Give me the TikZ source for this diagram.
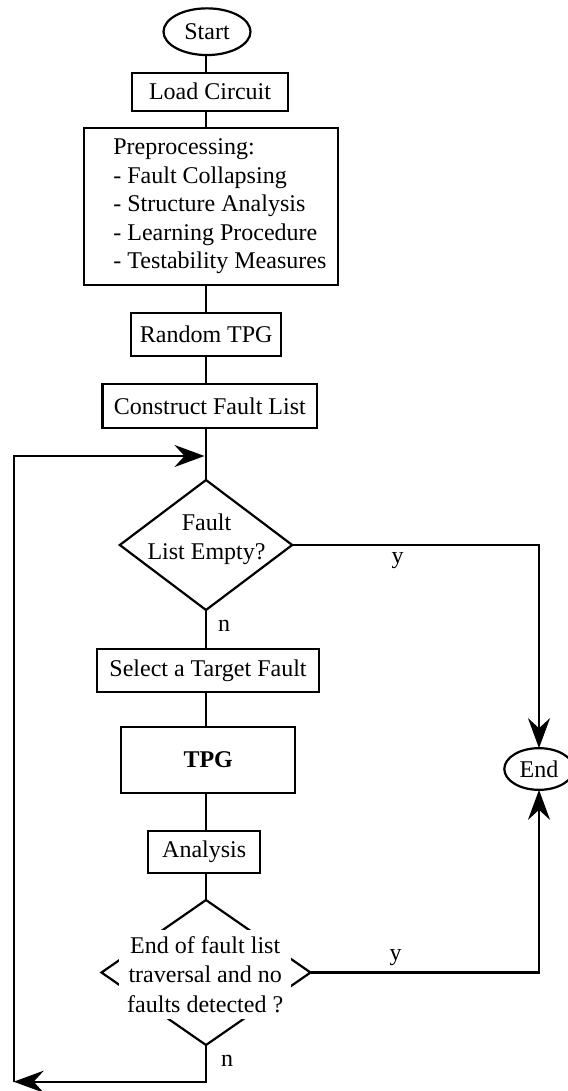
\documentclass[tikz,border=0pt]{standalone}
\usepackage{fontspec}
\setmainfont{Liberation Serif}
\usepackage{tikz}
\usetikzlibrary{shapes.geometric}
\usetikzlibrary{arrows.meta}
\tikzset{procbox/.style = {draw, rectangle, inner sep = 0pt, outer sep = 0pt}}
\tikzset{termin/.style = {draw, ellipse, inner sep = 0pt, outer sep = 0pt}}
\tikzset{decis/.style = {draw, diamond, inner sep = 0pt, outer sep = 0pt}}
\tikzset{arr/.style = {-{Stealth[length = 30pt, width = 22pt, inset = 10pt]}}}

\begin{document}
\begin{tikzpicture}[x = 1pt, y = -1pt, line width = 2.2pt, font = \fontsize{24}{29}\selectfont]
    \useasboundingbox (0, 0) rectangle (567, 1091);
    \node [termin, minimum width = 87pt, minimum height = 46.7pt] (start) at (207, 31.7) {Start};
    \foreach \x\y\w\h\n\t in {210/91.7/156.6/38/load/Load Circuit, 206.2/334.2/150/43/rand/Random TPG, 209.8/406.3/214.5/44/cfl/Construct Fault List, 208/670.5/222.2/42.3/sel/Select a Target Fault, 208.2/760/174.2/66.7/tpg/\textbf{TPG}, 204.2/852/112/42.7/ana/Analysis} {
        \node [procbox, minimum width = \w pt, minimum height = \h pt] (\n) at (\x, \y) {\t};
    }
    \node [procbox, minimum width = 253.7pt, minimum height = 156.7pt] (prep) at (210.8, 206.7) {};
    \node [anchor = west, align = left, inner sep = 0pt, font = \fontsize{24}{28.5}\selectfont] (preptext) at (112.3, 206.5) {Preprocessing:\\- Fault Collapsing\\- Structure Analysis\\- Learning Procedure\\- Testability Measures};
    % decisions
    \node [decis, minimum width = 172.4pt, minimum height = 130pt] (dec1) at (206, 545) {};
    \node [align = center, inner sep = 0pt, font = \fontsize{24}{28.6}\selectfont] (dec1text) at (206.5, 539.4) {Fault\\List Empty?};
    \node [decis, minimum width = 209pt, minimum height = 145pt] (dec2) at (206, 972.5) {};
    \node [fill = white, align = center, inner sep = 0pt, minimum width = 171.7pt, minimum height = 89.3pt, font = \fontsize{24}{29.5}\selectfont] (dec2text) at (205.2, 974.7) {End of fault list\\traversal and no\\faults detected ?};
    \node [termin, minimum width = 69.4pt, minimum height = 41.7pt] (end) at (539, 769) {End};
    % main column
    \foreach \a\b in {start/load, load/prep, prep/rand, rand/cfl, cfl/dec1, dec1/sel, sel/tpg, tpg/ana, ana/dec2} {
        \draw (\a.south -| dec1) -- (\b.north -| dec1);
    }
    \draw [arr] (dec1.east) -| (end.north);
    \draw [arr] (dec2.east) -| (end.south);
    \node [anchor = base] (y1) at (397.5, 563.8) {y};
    \node [anchor = base] (y2) at (395.7, 960.8) {y};
    \node [anchor = base] (n1) at (224, 631.7) {n};
    \node [anchor = base] (n2) at (227, 1066.7) {n};
    % loop back
    \coordinate (back) at (13.7, 1081.7);
    \coordinate (join) at (204.5, 456);
    \draw [arr] (dec2.south) |- (back);
    \draw [arr] (back) |- (join);
\end{tikzpicture}
\end{document}
